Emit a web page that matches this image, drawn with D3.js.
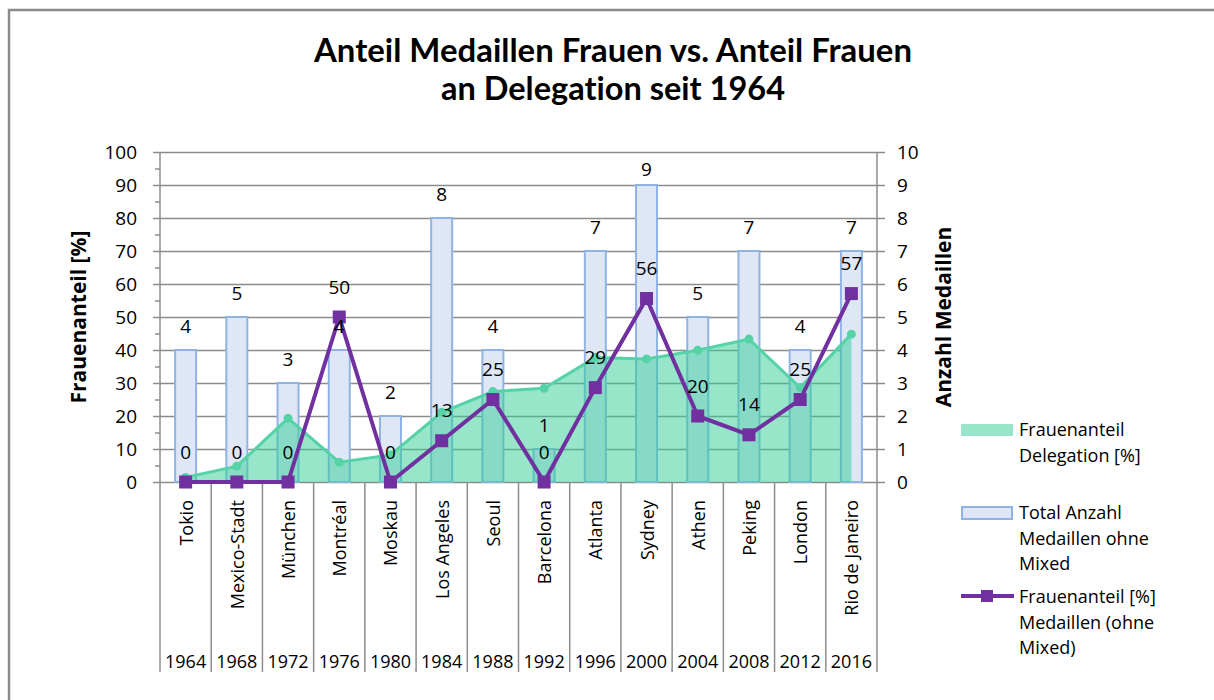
<!DOCTYPE html>
<html>

<head>
    <meta charset="utf-8">
    <style>
        body {
            margin: 0;
            background: #fff;
        }
        text {
            font-family: "Open Sans", "Noto Sans", sans-serif;
            fill: #000;
        }
        .grid line {
            stroke: #8c8c8c;
            stroke-width: 1.5;
        }
        .grid path {
            display: none;
        }
    </style>
</head>

<body>
    <svg id="container" height="700" width="1214">
        <g id="body"></g>
    </svg>
</body>
<script src="https://d3js.org/d3.v7.min.js"></script>

<script>
    // data
    let years = ["1964", "1968", "1972", "1976", "1980", "1984", "1988", "1992", "1996", "2000", "2004", "2008", "2012", "2016"];
    let cities = ["Tokio", "Mexico-Stadt", "München", "Montréal", "Moskau", "Los Angeles", "Seoul", "Barcelona", "Atlanta", "Sydney", "Athen", "Peking", "London", "Rio de Janeiro"];
    let delegationShare = [1.4, 4.8, 19.3, 6, 8.2, 21.1, 27.4, 28.4, 37.7, 37.3, 39.9, 43.3, 28.6, 44.8];
    let medalsTotal = [4, 5, 3, 4, 2, 8, 4, 1, 7, 9, 5, 7, 4, 7];
    let medalShare = [0, 0, 0, 50, 0, 12.5, 25, 0, 28.6, 55.6, 20, 14.3, 25, 57.1];
    let leftTicks = [0, 10, 20, 30, 40, 50, 60, 70, 80, 90, 100];
    let rightTicks = [0, 1, 2, 3, 4, 5, 6, 7, 8, 9, 10];

    let svg = d3.select("#container");
    let body = d3.select("#body");

    let plotLeft = 160, plotRight = 877, plotTop = 152, plotBottom = 482;

    let x = d3.scaleBand().domain(years).range([plotLeft, plotRight]);
    let cx = (i) => x(years[i]) + x.bandwidth() / 2;
    let yL = d3.scaleLinear().domain([0, 100]).range([plotBottom, plotTop]);
    let yR = d3.scaleLinear().domain([0, 10]).range([plotBottom, plotTop]);

    // chart frame (only top and left edges visible in the picture)
    svg.append("path")
        .attr("d", "M9,700 V10 H1214")
        .attr("fill", "none")
        .attr("stroke", "#8a8a8a")
        .attr("stroke-width", 2.5);

    // title
    let title = svg.append("text")
        .attr("text-anchor", "middle")
        .style("font-family", "Lato, sans-serif")
        .style("font-weight", "bold")
        .style("font-size", "32px")
        .style("font-variant-ligatures", "none");
    title.append("tspan").attr("x", 613).attr("y", 62)
        .attr("textLength", 598).attr("lengthAdjust", "spacingAndGlyphs")
        .text("Anteil Medaillen Frauen vs. Anteil Frauen");
    title.append("tspan").attr("x", 613).attr("y", 100)
        .attr("textLength", 344).attr("lengthAdjust", "spacingAndGlyphs")
        .text("an Delegation seit 1964");

    // gridlines
    body.append("g")
        .attr("class", "grid")
        .attr("transform", `translate(${plotLeft}, 0)`)
        .call(d3.axisLeft(yL).tickValues(leftTicks).tickSize(-(plotRight - plotLeft)).tickFormat(""));

    // left axis
    let leftAxis = body.append("g")
        .attr("class", "grid")
        .attr("transform", `translate(${plotLeft}, 0)`)
        .call(d3.axisLeft(yL).tickValues(leftTicks).tickSize(7).tickPadding(16));
    leftAxis.selectAll("text").style("font-size", "19px").style("font-family", "'Open Sans', sans-serif");
    body.append("g")
        .attr("class", "grid")
        .attr("transform", `translate(${plotLeft}, 0)`)
        .call(d3.axisLeft(yL).tickValues(d3.range(5, 100, 10)).tickSize(5).tickFormat(""));

    // right axis
    let rightAxis = body.append("g")
        .attr("class", "grid")
        .attr("transform", `translate(${plotRight}, 0)`)
        .call(d3.axisRight(yR).tickValues(rightTicks).tickSize(8).tickPadding(12));
    rightAxis.selectAll("text").style("font-size", "19px").style("font-family", "'Open Sans', sans-serif");

    // axis lines
    body.append("line")
        .attr("x1", plotLeft).attr("x2", plotLeft)
        .attr("y1", plotTop).attr("y2", 672)
        .attr("stroke", "#8c8c8c").attr("stroke-width", 1.5);
    body.append("line")
        .attr("x1", plotRight).attr("x2", plotRight)
        .attr("y1", plotTop).attr("y2", 672)
        .attr("stroke", "#8c8c8c").attr("stroke-width", 1.5);

    // category separators
    body.append("g")
        .selectAll("line")
        .data(years.slice(1))
        .enter()
        .append("line")
            .attr("x1", (d) => x(d))
            .attr("x2", (d) => x(d))
            .attr("y1", plotBottom)
            .attr("y2", 672)
            .attr("stroke", "#8c8c8c")
            .attr("stroke-width", 1.5);

    // category labels
    body.append("g")
        .selectAll("text")
        .data(cities)
        .enter()
        .append("text")
            .attr("transform", (d, i) => `translate(${cx(i) + 7}, 500) rotate(-90)`)
            .attr("text-anchor", "end")
            .style("font-size", "18px")
            .text((d) => d);
    body.append("g")
        .selectAll("text")
        .data(years)
        .enter()
        .append("text")
            .attr("x", (d, i) => cx(i))
            .attr("y", 668)
            .attr("text-anchor", "middle")
            .style("font-size", "18px")
            .text((d) => d);

    // axis titles
    body.append("text")
        .attr("transform", `translate(86, ${(plotTop + plotBottom) / 2}) rotate(-90)`)
        .attr("text-anchor", "middle")
        .style("font-weight", "bold")
        .style("font-size", "21px")
        .text("Frauenanteil [%]");
    body.append("text")
        .attr("transform", `translate(951, ${(plotTop + plotBottom) / 2}) rotate(-90)`)
        .attr("text-anchor", "middle")
        .style("font-weight", "bold")
        .style("font-size", "21px")
        .text("Anzahl Medaillen");

    // bars (right axis)
    let barW = 21;
    body.append("g")
        .selectAll("rect")
        .data(medalsTotal)
        .enter()
        .append("rect")
            .attr("x", (d, i) => cx(i) - barW / 2)
            .attr("y", (d) => yR(d))
            .attr("width", barW)
            .attr("height", (d) => plotBottom - yR(d))
            .attr("fill", "#dfe7f6")
            .attr("stroke", "#8fb4e3")
            .attr("stroke-width", 2);

    // area (left axis)
    let area = d3.area()
        .x((d, i) => cx(i))
        .y0(plotBottom)
        .y1((d) => yL(d));
    let line = d3.line()
        .x((d, i) => cx(i))
        .y((d) => yL(d));
    body.append("path")
        .datum(delegationShare)
        .attr("d", area)
        .attr("fill", "rgb(48, 205, 150)")
        .attr("fill-opacity", 0.5);
    body.append("path")
        .datum(delegationShare)
        .attr("d", line)
        .attr("fill", "none")
        .attr("stroke", "#55d3a7")
        .attr("stroke-width", 3);
    body.append("g")
        .selectAll("circle")
        .data(delegationShare)
        .enter()
        .append("circle")
            .attr("cx", (d, i) => cx(i))
            .attr("cy", (d) => yL(d))
            .attr("r", 4.5)
            .attr("fill", "#55d3a7");

    // medal share line (left axis)
    body.append("path")
        .datum(medalShare)
        .attr("d", line)
        .attr("fill", "none")
        .attr("stroke", "#7030a0")
        .attr("stroke-width", 4)
        .attr("stroke-linejoin", "round");
    let sq = 13;
    body.append("g")
        .selectAll("rect")
        .data(medalShare)
        .enter()
        .append("rect")
            .attr("x", (d, i) => cx(i) - sq / 2)
            .attr("y", (d) => yL(d) - sq / 2)
            .attr("width", sq)
            .attr("height", sq)
            .attr("fill", "#7030a0");

    // data labels
    body.append("g")
        .selectAll("text")
        .data(medalsTotal)
        .enter()
        .append("text")
            .attr("x", (d, i) => cx(i))
            .attr("y", (d) => Math.max(yR(d) - 24, 169))
            .attr("dy", "0.35em")
            .attr("text-anchor", "middle")
            .style("font-size", "19px")
            .text((d) => d);
    body.append("g")
        .selectAll("text")
        .data(medalShare)
        .enter()
        .append("text")
            .attr("x", (d, i) => cx(i))
            .attr("y", (d) => yL(d) - 30)
            .attr("dy", "0.35em")
            .attr("text-anchor", "middle")
            .style("font-size", "19px")
            .text((d) => Math.round(d));

    // legend
    let legend = svg.append("g").attr("transform", "translate(961, 0)");
    legend.append("rect")
        .attr("x", 0).attr("y", 424).attr("width", 52).attr("height", 12)
        .attr("fill", "rgb(48, 205, 150)").attr("fill-opacity", 0.5);
    legend.append("rect")
        .attr("x", 1).attr("y", 507).attr("width", 50).attr("height", 12)
        .attr("fill", "#dfe7f6").attr("stroke", "#8fb4e3").attr("stroke-width", 2);
    legend.append("line")
        .attr("x1", 0).attr("x2", 53).attr("y1", 596).attr("y2", 596)
        .attr("stroke", "#7030a0").attr("stroke-width", 4);
    legend.append("rect")
        .attr("x", 20).attr("y", 590).attr("width", 12).attr("height", 12)
        .attr("fill", "#7030a0");
    let legendTexts = [
        [436, ["Frauenanteil", "Delegation [%]"]],
        [519, ["Total Anzahl", "Medaillen ohne", "Mixed"]],
        [603, ["Frauenanteil [%]", "Medaillen (ohne", "Mixed)"]]
    ];
    legendTexts.forEach(([y0, lines]) => {
        let t = legend.append("text").style("font-size", "18px");
        lines.forEach((l, k) => {
            t.append("tspan").attr("x", 58).attr("y", y0 + k * 25.5).text(l);
        });
    });
</script>

</html>
